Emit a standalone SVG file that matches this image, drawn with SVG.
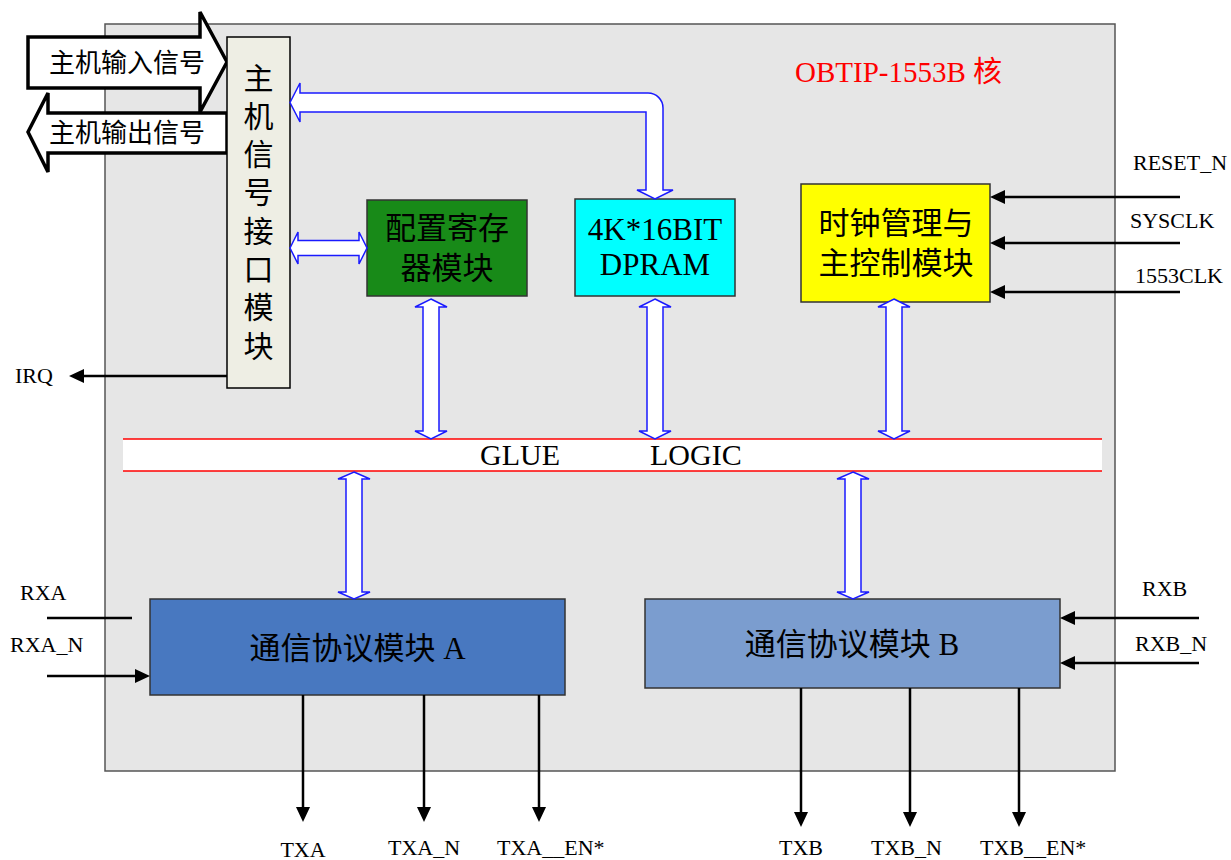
<svg xmlns="http://www.w3.org/2000/svg" width="1231" height="860" viewBox="0 0 1231 860">
<style>
.blk{stroke:#333;stroke-width:1.5}
.bus{fill:#fff;stroke:#1a1aff;stroke-width:1.5;stroke-linejoin:miter}
.sig{stroke:#000;stroke-width:2.5;fill:none}
.cn{font-family:"Liberation Serif","Noto Sans CJK SC",serif;fill:#000}
.lt{font-family:"Liberation Serif",serif;fill:#000}
.lb{font-family:"Liberation Serif",serif;font-size:22px;fill:#000}
.big{fill:#fff;stroke:#000;stroke-width:3.5;stroke-linejoin:miter}
</style>
<defs>
<marker id="ah" markerUnits="userSpaceOnUse" markerWidth="15" markerHeight="14" viewBox="0 0 15 14" refX="9" refY="7" orient="auto">
<path d="M0,0 L15,7 L0,14 Z" fill="#000"/>
</marker>
</defs>
<rect width="1231" height="860" fill="#fff"/>
<g id="frame">
<rect x="105" y="24" width="1010" height="747" fill="#e6e6e6" stroke="#555" stroke-width="1.5"/>
<text class="cn" x="795" y="82" font-size="29" style="fill:#ff0000">OBTIP-1553B 核</text>
</g>
<g id="host-in">
<polygon class="big" points="28,37 200,37 200,12 227,62 200,112 200,88 28,88"/>
<text class="cn" x="127" y="72" font-size="26" text-anchor="middle">主机输入信号</text>
</g>
<g id="host-out">
<polygon class="big" points="227,113 48,113 48,93 28,132 48,172 48,153 227,153"/>
<text class="cn" x="127" y="142" font-size="26" text-anchor="middle">主机输出信号</text>
</g>
<g id="host-if">
<rect x="227" y="37" width="63" height="351" fill="#eeeee4" stroke="#000" stroke-width="1.5"/>
<g class="cn" font-size="30" text-anchor="middle">
<text x="258.5" y="88.5">主</text>
<text x="258.5" y="126.7">机</text>
<text x="258.5" y="165">信</text>
<text x="258.5" y="203.3">号</text>
<text x="258.5" y="241.6">接</text>
<text x="258.5" y="279.9">口</text>
<text x="258.5" y="318.2">模</text>
<text x="258.5" y="356.5">块</text>
</g>
</g>
<g id="cfg">
<rect class="blk" x="367" y="200" width="160" height="96" fill="#188a18"/>
<text class="cn" x="447" y="238.5" font-size="31" text-anchor="middle">配置寄存</text>
<text class="cn" x="447" y="278.5" font-size="31" text-anchor="middle">器模块</text>
</g>
<g id="dpram">
<rect class="blk" x="575" y="199" width="160" height="97" fill="#00ffff"/>
<text x="655" y="240" font-family="Liberation Serif, serif" font-size="31" text-anchor="middle" fill="#000">4K*16BIT</text>
<text x="655" y="275" font-family="Liberation Serif, serif" font-size="31" text-anchor="middle" fill="#000">DPRAM</text>
</g>
<g id="clk">
<rect class="blk" x="801" y="184" width="189" height="118" fill="#ffff00"/>
<text class="cn" x="896" y="234" font-size="31" text-anchor="middle">时钟管理与</text>
<text class="cn" x="896" y="274" font-size="31" text-anchor="middle">主控制模块</text>
</g>
<g id="glue">
<rect x="123" y="439" width="979" height="32" fill="#fff"/>
<line x1="123" y1="439" x2="1102" y2="439" stroke="#ff0000" stroke-width="1.5"/>
<line x1="123" y1="471" x2="1102" y2="471" stroke="#ff0000" stroke-width="1.5"/>
<text class="lt" x="480" y="465" font-size="30">GLUE</text>
<text class="lt" x="650" y="465" font-size="30">LOGIC</text>
</g>
<g id="commA">
<rect class="blk" x="150" y="599" width="415" height="96" fill="#4878c0"/>
<text class="cn" x="357.5" y="659" font-size="31" text-anchor="middle">通信协议模块 A</text>
</g>
<g id="commB">
<rect class="blk" x="645" y="599" width="415" height="89" fill="#7b9dcf"/>
<text class="cn" x="852" y="654.5" font-size="31" text-anchor="middle">通信协议模块 B</text>
</g>
<g id="connectors">
<path class="bus" d="M290,102.5 L300,83 L300,93 L648,93 A15,15 0 0 1 663,108 L663,190 L673,190 L655,199 L637,190 L646,190 L646,112 L300,112 L300,122 Z"/>
<polygon class="bus" points="290,248 298,232 298,240.5 359,240.5 359,232 367,248 359,264 359,255.5 298,255.5 298,264"/>
<polygon class="bus" points="431,299 447,307 439,307 439,431 447,431 431,439 415,431 423,431 423,307 415,307"/>
<polygon class="bus" points="655,299 671,307 663,307 663,431 671,431 655,439 639,431 647,431 647,307 639,307"/>
<polygon class="bus" points="894,299 910,307 902,307 902,431 910,431 894,439 878,431 886,431 886,307 878,307"/>
<polygon class="bus" points="354,472 370,479 362,479 362,592 370,592 354,599 338,592 346,592 346,479 338,479"/>
<polygon class="bus" points="853,472 869,479 861,479 861,592 869,592 853,599 837,592 845,592 845,479 837,479"/>
<line class="sig" x1="1180" y1="197" x2="996" y2="197" marker-end="url(#ah)"/>
<line class="sig" x1="1180" y1="243" x2="996" y2="243" marker-end="url(#ah)"/>
<line class="sig" x1="1180" y1="292" x2="996" y2="292" marker-end="url(#ah)"/>
<line class="sig" x1="227" y1="376" x2="75" y2="376" marker-end="url(#ah)"/>
<line class="sig" x1="47" y1="618" x2="132" y2="618"/>
<line class="sig" x1="47" y1="676" x2="144" y2="676" marker-end="url(#ah)"/>
<line class="sig" x1="1199" y1="618" x2="1066" y2="618" marker-end="url(#ah)"/>
<line class="sig" x1="1199" y1="663" x2="1066" y2="663" marker-end="url(#ah)"/>
<line class="sig" x1="303" y1="695" x2="303" y2="816" marker-end="url(#ah)"/>
<line class="sig" x1="424" y1="695" x2="424" y2="816" marker-end="url(#ah)"/>
<line class="sig" x1="539" y1="695" x2="539" y2="816" marker-end="url(#ah)"/>
<line class="sig" x1="801" y1="688" x2="801" y2="821" marker-end="url(#ah)"/>
<line class="sig" x1="910" y1="688" x2="910" y2="821" marker-end="url(#ah)"/>
<line class="sig" x1="1019" y1="688" x2="1019" y2="821" marker-end="url(#ah)"/>
</g>
<g id="labels">
<text class="lb" x="1133" y="170">RESET_N</text>
<text class="lb" x="1130" y="228">SYSCLK</text>
<text class="lb" x="1135" y="283">1553CLK</text>
<text class="lb" x="15" y="383">IRQ</text>
<text class="lb" x="20" y="600">RXA</text>
<text class="lb" x="10" y="652">RXA_N</text>
<text class="lb" x="1142" y="596">RXB</text>
<text class="lb" x="1135" y="651">RXB_N</text>
<text class="lb" x="303" y="857" text-anchor="middle">TXA</text>
<text class="lb" x="424" y="855" text-anchor="middle">TXA_N</text>
<text class="lb" x="497" y="855">TXA__EN*</text>
<text class="lb" x="801" y="855" text-anchor="middle">TXB</text>
<text class="lb" x="871" y="855">TXB_N</text>
<text class="lb" x="980" y="855">TXB__EN*</text>
</g>
</svg>
